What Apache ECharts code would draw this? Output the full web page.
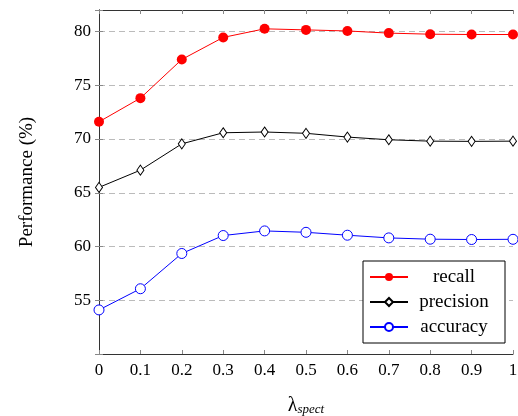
<!DOCTYPE html>
<html><head><meta charset="utf-8">
<script src="https://cdn.jsdelivr.net/npm/echarts@6/dist/echarts.min.js"></script>
<style>html,body{margin:0;padding:0;background:#fff}#c{width:518px;height:416px}</style>
</head><body><div id="c"></div>
<script>
const lambdas = [0, 0.1, 0.2, 0.3, 0.4, 0.5, 0.6, 0.7, 0.8, 0.9, 1];
const recall = [71.6, 73.8, 77.4, 79.45, 80.25, 80.15, 80.05, 79.85, 79.75, 79.72, 79.72];
const precision = [65.5, 67.1, 69.55, 70.58, 70.65, 70.53, 70.18, 69.93, 69.8, 69.78, 69.8];
const accuracy = [54.1, 56.07, 59.35, 61.02, 61.45, 61.32, 61.05, 60.8, 60.68, 60.65, 60.67];
const yTicks = [55, 60, 65, 70, 75, 80];

const font = '"Liberation Serif", "Times New Roman", serif';
const frame = '#333';
const tickCol = '#888';
const chart = echarts.init(document.getElementById('c'), null, {renderer: 'canvas'});
const pair = a => lambdas.map((x, i) => [x, a[i]]);
const baseX = {type: 'value', min: 0, max: 1, interval: 0.1,
  axisLine: {show: true, lineStyle: {color: frame, width: 1}},
  axisTick: {show: true, inside: true, length: 4, lineStyle: {color: tickCol}},
  splitLine: {show: false}};
const baseY = {type: 'value', min: 50, max: 82, interval: 5,
  axisLine: {show: true, lineStyle: {color: frame, width: 1}},
  axisTick: {show: true, inside: true, length: 4, lineStyle: {color: tickCol}}};
chart.setOption({
  animation: false,
  grid: {left: 99, right: 5, top: 10, bottom: 62, containLabel: false, outerBoundsMode: 'none'},
  xAxis: [
    Object.assign({}, baseX, {position: 'bottom',
      axisLabel: {fontFamily: font, fontSize: 17, color: '#000', margin: 8},
      name: '{l|λ}{s|spect}', nameLocation: 'middle', nameGap: 41,
      nameTextStyle: {rich: {l: {fontFamily: font, fontSize: 20, color: '#000'},
        s: {fontFamily: font, fontSize: 13, fontStyle: 'italic', color: '#000', verticalAlign: 'bottom', padding: [8, 0, 0, 0]}}}}),
    Object.assign({}, baseX, {position: 'top', axisLabel: {show: false}})
  ],
  yAxis: [
    Object.assign({}, baseY, {position: 'left',
      axisLabel: {fontFamily: font, fontSize: 17, color: '#000', margin: 8,
        formatter: v => yTicks.includes(v) ? String(v) : ''},
      splitLine: {show: true, lineStyle: {color: '#bbb', type: [6, 4], width: 1}},
      name: 'Performance (%)', nameLocation: 'middle', nameGap: 62,
      nameTextStyle: {fontFamily: font, fontSize: 19, color: '#000'}}),
    Object.assign({}, baseY, {position: 'right', axisLabel: {show: false}, splitLine: {show: false}})
  ],
  legend: {
    left: 363, top: 261, orient: 'vertical',
    backgroundColor: '#fff', borderColor: '#000', borderWidth: 1, borderRadius: 0,
    padding: [5, 10, 5, 6], itemGap: 3, itemWidth: 38, itemHeight: 10,
    data: ['recall', 'precision', 'accuracy'],
    formatter: n => '{a|' + n + '}',
    textStyle: {fontFamily: font, fontSize: 19, color: '#000',
      rich: {a: {fontFamily: font, fontSize: 19, lineHeight: 22, height: 22, width: 82, align: 'center', color: '#000'}}}
  },
  series: [
    {name: 'recall', type: 'line', data: pair(recall), symbol: 'circle', symbolSize: 10,
      itemStyle: {color: '#ff0000'}, lineStyle: {color: '#ff0000', width: 1}},
    {name: 'precision', type: 'line', data: pair(precision), symbol: 'diamond', symbolSize: [7, 10],
      itemStyle: {color: '#fff', borderColor: '#000', borderWidth: 1}, lineStyle: {color: '#000', width: 1}},
    {name: 'accuracy', type: 'line', data: pair(accuracy), symbol: 'circle', symbolSize: 10,
      itemStyle: {color: '#fff', borderColor: '#0000ff', borderWidth: 1}, lineStyle: {color: '#0000ff', width: 1}}
  ]
});
</script></body></html>
